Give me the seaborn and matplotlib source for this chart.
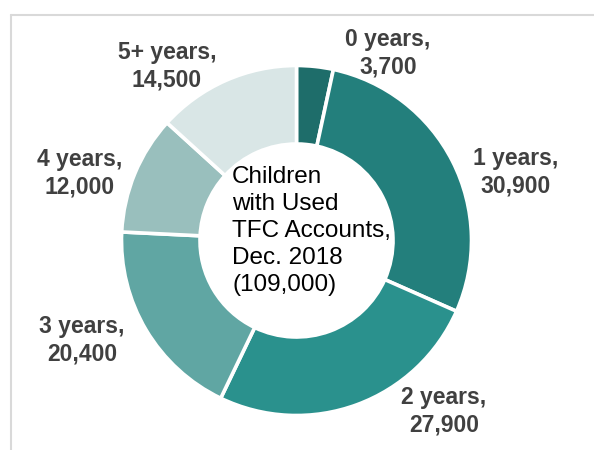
import matplotlib
matplotlib.use("Agg")
import matplotlib.pyplot as plt
from matplotlib.lines import Line2D
import seaborn as sns

# Children with used Tax-Free Childcare accounts by age, December 2018
age_groups = ["0 years", "1 years", "2 years", "3 years", "4 years", "5+ years"]
children = [3700, 30900, 27900, 20400, 12000, 14500]
value_labels = ["3,700", "30,900", "27,900", "20,400", "12,000", "14,500"]
slice_colors = ["#1e6d6a", "#237f7c", "#2a918d", "#60a6a3", "#99bfbd", "#d9e6e6"]
center_title = "Children\nwith Used\nTFC Accounts,\nDec. 2018\n(109,000)"

sns.set_theme(style="white")
plt.rcParams["font.family"] = ["Liberation Sans", "DejaVu Sans"]

W, H = 594, 450
fig = plt.figure(figsize=(W / 100, H / 100), dpi=100)
ax = fig.add_axes([0, 0, 1, 1])

palette = sns.color_palette(slice_colors)
cx, cy, radius = 296.5, H - 240.5, 175
ring = 1 - 96.5 / 175

wedges, _ = ax.pie(
    children,
    colors=palette,
    startangle=90,
    counterclock=False,
    center=(cx, cy),
    radius=radius,
    wedgeprops=dict(width=radius * ring, edgecolor="white", linewidth=2.6),
)

# label anchor points (pixel coordinates from the top-left)
label_xy = [(388, 53), (516, 172), (444, 411), (82, 340), (80, 173), (167, 66)]
for name, val, (lx, ly) in zip(age_groups, value_labels, label_xy):
    ax.text(lx, H - ly, f"{name},\n{val}", ha="center", va="center",
            fontsize=16.5, fontweight="bold", color="#404040", linespacing=1.25)

ax.text(232, H - 231, center_title, ha="left", va="center", fontsize=17.5,
        color="#000000", linespacing=1.3, multialignment="left")

ax.set_xlim(0, W)
ax.set_ylim(0, H)
ax.set_aspect("auto")
ax.axis("off")

# light frame along the top and left edges
frame_kw = dict(color="#d9d9d9", linewidth=1.5, transform=fig.transFigure)
fig.add_artist(Line2D([11 / W, 1], [1 - 15 / H, 1 - 15 / H], **frame_kw))
fig.add_artist(Line2D([11 / W, 11 / W], [0, 1 - 15 / H], **frame_kw))

fig.savefig("out.png", dpi=100, facecolor="white")
